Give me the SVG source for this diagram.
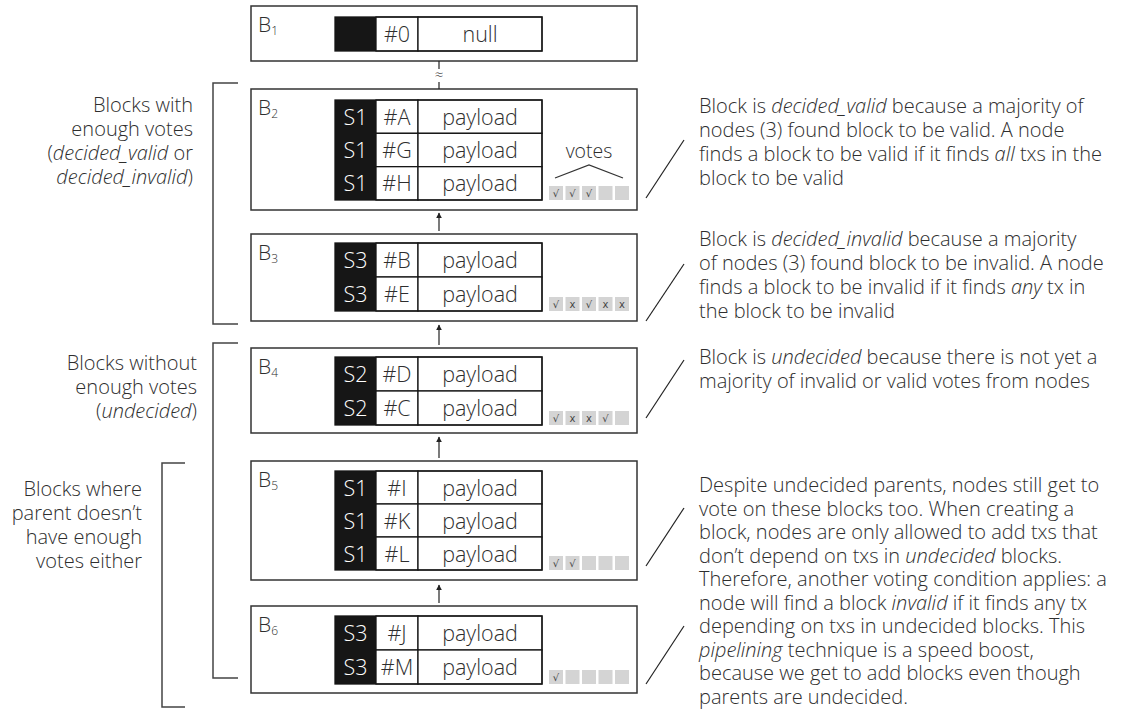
<svg xmlns="http://www.w3.org/2000/svg" width="1126" height="709" viewBox="0 0 1126 709">
<defs>
<style>
.box{fill:#fff;stroke:#333;stroke-width:1.5}
.blk{fill:#161616}
.cell{fill:#fff;stroke:#161616;stroke-width:1.3}
.frame{fill:none;stroke:#161616;stroke-width:1.3}
.t{font-family:"Open Sans","Noto Sans",sans-serif;fill:#2e2e2e;font-weight:300}
.tc{font-size:21.5px;text-anchor:middle}
.w{fill:#fff}
.lbl{font-size:21px}
.sub{font-size:12px}
.ann{font-size:20px}
.end{text-anchor:end}
.v{fill:#d4d4d4}
.vm{font-family:"DejaVu Sans",sans-serif;font-size:10px;fill:#444;text-anchor:middle}
.br{fill:none;stroke:#444;stroke-width:1.5}
.con{stroke:#222;stroke-width:1.2;fill:none}
.sl{stroke:#222;stroke-width:1.2}
</style>
<marker id="ah" viewBox="0 0 10 10" refX="9" refY="5" markerWidth="5" markerHeight="5" orient="auto" markerUnits="strokeWidth">
<path d="M0,0 L10,5 L0,10 z" fill="#222"/>
</marker>
</defs>
<rect width="1126" height="709" fill="#fff"/>

<g id="b1">
<rect class="box" x="251" y="6" width="386" height="55"/>
<text class="t lbl" x="258" y="32">B<tspan class="sub" dy="3">1</tspan></text>
<rect class="blk" x="335" y="17" width="41" height="34"/>
<rect class="cell" x="376" y="17" width="42" height="34"/>
<rect class="cell" x="418" y="17" width="124" height="34"/>
<rect class="frame" x="335" y="17" width="207" height="34"/>
<text class="t tc" x="397" y="42">#0</text>
<text class="t tc" x="480" y="42">null</text>
</g>

<g id="b2">
<rect class="box" x="251" y="89" width="386" height="121"/>
<text class="t lbl" x="258" y="115">B<tspan class="sub" dy="3">2</tspan></text>
<rect class="blk" x="335" y="100" width="41" height="100"/>
<rect class="cell" x="376" y="100" width="42" height="33.33"/><rect class="cell" x="418" y="100" width="124" height="33.33"/>
<rect class="cell" x="376" y="133.33" width="42" height="33.33"/><rect class="cell" x="418" y="133.33" width="124" height="33.33"/>
<rect class="cell" x="376" y="166.67" width="42" height="33.33"/><rect class="cell" x="418" y="166.67" width="124" height="33.33"/>
<rect class="frame" x="335" y="100" width="207" height="100"/>
<text class="t tc w" x="355.5" y="125">S1</text><text class="t tc" x="397" y="125">#A</text><text class="t tc" x="480" y="125">payload</text>
<text class="t tc w" x="355.5" y="158">S1</text><text class="t tc" x="397" y="158">#G</text><text class="t tc" x="480" y="158">payload</text>
<text class="t tc w" x="355.5" y="191">S1</text><text class="t tc" x="397" y="191">#H</text><text class="t tc" x="480" y="191">payload</text>
<text class="t" x="589" y="158" font-size="19.5" text-anchor="middle">votes</text>
<polyline points="555,178 589,165 623,178" fill="none" stroke="#333" stroke-width="1.2"/>
<rect class="v" x="549" y="186" width="14" height="14"/><rect class="v" x="565.5" y="186" width="14" height="14"/><rect class="v" x="582" y="186" width="14" height="14"/><rect class="v" x="598.5" y="186" width="14" height="14"/><rect class="v" x="615" y="186" width="14" height="14"/>
<text class="vm" x="556" y="197">√</text><text class="vm" x="572.5" y="197">√</text><text class="vm" x="589" y="197">√</text>
</g>

<g id="b3">
<rect class="box" x="251" y="234" width="386" height="87"/>
<text class="t lbl" x="258" y="260">B<tspan class="sub" dy="3">3</tspan></text>
<rect class="blk" x="335" y="243" width="41" height="68"/>
<rect class="cell" x="376" y="243" width="42" height="34"/><rect class="cell" x="418" y="243" width="124" height="34"/>
<rect class="cell" x="376" y="277" width="42" height="34"/><rect class="cell" x="418" y="277" width="124" height="34"/>
<rect class="frame" x="335" y="243" width="207" height="68"/>
<text class="t tc w" x="355.5" y="268">S3</text><text class="t tc" x="397" y="268">#B</text><text class="t tc" x="480" y="268">payload</text>
<text class="t tc w" x="355.5" y="302">S3</text><text class="t tc" x="397" y="302">#E</text><text class="t tc" x="480" y="302">payload</text>
<rect class="v" x="549" y="297" width="14" height="14"/><rect class="v" x="565.5" y="297" width="14" height="14"/><rect class="v" x="582" y="297" width="14" height="14"/><rect class="v" x="598.5" y="297" width="14" height="14"/><rect class="v" x="615" y="297" width="14" height="14"/>
<text class="vm" x="556" y="308">√</text><text class="vm" x="572.5" y="308">x</text><text class="vm" x="589" y="308">√</text><text class="vm" x="605.5" y="308">x</text><text class="vm" x="622" y="308">x</text>
</g>

<g id="b4">
<rect class="box" x="251" y="348" width="386" height="85"/>
<text class="t lbl" x="258" y="374">B<tspan class="sub" dy="3">4</tspan></text>
<rect class="blk" x="335" y="357" width="41" height="68"/>
<rect class="cell" x="376" y="357" width="42" height="34"/><rect class="cell" x="418" y="357" width="124" height="34"/>
<rect class="cell" x="376" y="391" width="42" height="34"/><rect class="cell" x="418" y="391" width="124" height="34"/>
<rect class="frame" x="335" y="357" width="207" height="68"/>
<text class="t tc w" x="355.5" y="382">S2</text><text class="t tc" x="397" y="382">#D</text><text class="t tc" x="480" y="382">payload</text>
<text class="t tc w" x="355.5" y="416">S2</text><text class="t tc" x="397" y="416">#C</text><text class="t tc" x="480" y="416">payload</text>
<rect class="v" x="549" y="411" width="14" height="14"/><rect class="v" x="565.5" y="411" width="14" height="14"/><rect class="v" x="582" y="411" width="14" height="14"/><rect class="v" x="598.5" y="411" width="14" height="14"/><rect class="v" x="615" y="411" width="14" height="14"/>
<text class="vm" x="556" y="422">√</text><text class="vm" x="572.5" y="422">x</text><text class="vm" x="589" y="422">x</text><text class="vm" x="605.5" y="422">√</text>
</g>

<g id="b5">
<rect class="box" x="251" y="461" width="386" height="119"/>
<text class="t lbl" x="258" y="487">B<tspan class="sub" dy="3">5</tspan></text>
<rect class="blk" x="335" y="471" width="41" height="99"/>
<rect class="cell" x="376" y="471" width="42" height="33"/><rect class="cell" x="418" y="471" width="124" height="33"/>
<rect class="cell" x="376" y="504" width="42" height="33"/><rect class="cell" x="418" y="504" width="124" height="33"/>
<rect class="cell" x="376" y="537" width="42" height="33"/><rect class="cell" x="418" y="537" width="124" height="33"/>
<rect class="frame" x="335" y="471" width="207" height="99"/>
<text class="t tc w" x="355.5" y="495.5">S1</text><text class="t tc" x="397" y="495.5">#I</text><text class="t tc" x="480" y="495.5">payload</text>
<text class="t tc w" x="355.5" y="528.5">S1</text><text class="t tc" x="397" y="528.5">#K</text><text class="t tc" x="480" y="528.5">payload</text>
<text class="t tc w" x="355.5" y="561.5">S1</text><text class="t tc" x="397" y="561.5">#L</text><text class="t tc" x="480" y="561.5">payload</text>
<rect class="v" x="549" y="556" width="14" height="14"/><rect class="v" x="565.5" y="556" width="14" height="14"/><rect class="v" x="582" y="556" width="14" height="14"/><rect class="v" x="598.5" y="556" width="14" height="14"/><rect class="v" x="615" y="556" width="14" height="14"/>
<text class="vm" x="556" y="567">√</text><text class="vm" x="572.5" y="567">√</text>
</g>

<g id="b6">
<rect class="box" x="251" y="606" width="386" height="87"/>
<text class="t lbl" x="258" y="632">B<tspan class="sub" dy="3">6</tspan></text>
<rect class="blk" x="335" y="616" width="41" height="68"/>
<rect class="cell" x="376" y="616" width="42" height="34"/><rect class="cell" x="418" y="616" width="124" height="34"/>
<rect class="cell" x="376" y="650" width="42" height="34"/><rect class="cell" x="418" y="650" width="124" height="34"/>
<rect class="frame" x="335" y="616" width="207" height="68"/>
<text class="t tc w" x="355.5" y="641">S3</text><text class="t tc" x="397" y="641">#J</text><text class="t tc" x="480" y="641">payload</text>
<text class="t tc w" x="355.5" y="675">S3</text><text class="t tc" x="397" y="675">#M</text><text class="t tc" x="480" y="675">payload</text>
<rect class="v" x="549" y="670" width="14" height="14"/><rect class="v" x="565.5" y="670" width="14" height="14"/><rect class="v" x="582" y="670" width="14" height="14"/><rect class="v" x="598.5" y="670" width="14" height="14"/><rect class="v" x="615" y="670" width="14" height="14"/>
<text class="vm" x="556" y="681">√</text>
</g>

<g id="connectors">
<line class="con" x1="439" y1="61" x2="439" y2="69"/>
<text class="t" x="439" y="80" font-size="15" text-anchor="middle">≈</text>
<line class="con" x1="439" y1="82" x2="439" y2="89"/>
<line class="con" x1="439" y1="231" x2="439" y2="213" marker-end="url(#ah)"/>
<line class="con" x1="439" y1="345" x2="439" y2="325" marker-end="url(#ah)"/>
<line class="con" x1="439" y1="458" x2="439" y2="437" marker-end="url(#ah)"/>
<line class="con" x1="439" y1="603" x2="439" y2="585" marker-end="url(#ah)"/>
</g>

<g id="brackets">
<polyline class="br" points="238,83 213,83 213,324 238,324"/>
<polyline class="br" points="238,343 213,343 213,678 238,678"/>
<polyline class="br" points="185,463 162,463 162,707 185,707"/>
</g>

<g id="left-labels">
<text class="t ann end" x="193"><tspan x="193" y="112">Blocks with</tspan><tspan x="193" y="136">enough votes</tspan><tspan x="193" y="160">(<tspan font-style="italic">decided_valid</tspan> or</tspan><tspan x="193" y="184"><tspan font-style="italic">decided_invalid</tspan>)</tspan></text>
<text class="t ann end" x="197"><tspan x="197" y="370">Blocks without</tspan><tspan x="197" y="394">enough votes</tspan><tspan x="197" y="418">(<tspan font-style="italic">undecided</tspan>)</tspan></text>
<text class="t ann end" x="142"><tspan x="142" y="496">Blocks where</tspan><tspan x="142" y="520">parent doesn’t</tspan><tspan x="142" y="544">have enough</tspan><tspan x="142" y="568">votes either</tspan></text>
</g>

<g id="notes">
<line class="sl" x1="646" y1="198" x2="684" y2="140"/>
<line class="sl" x1="646" y1="321" x2="684" y2="264"/>
<line class="sl" x1="646" y1="418" x2="684" y2="360"/>
<line class="sl" x1="646" y1="566" x2="684" y2="508"/>
<line class="sl" x1="646" y1="684" x2="684" y2="626"/>
<text class="t ann" x="699"><tspan x="699" y="113">Block is <tspan font-style="italic">decided_valid</tspan> because a majority of</tspan><tspan x="699" y="137">nodes (3) found block to be valid. A node</tspan><tspan x="699" y="161">finds a block to be valid if it finds <tspan font-style="italic">all</tspan> txs in the</tspan><tspan x="699" y="185">block to be valid</tspan></text>
<text class="t ann" x="699"><tspan x="699" y="246">Block is <tspan font-style="italic">decided_invalid</tspan> because a majority</tspan><tspan x="699" y="270">of nodes (3) found block to be invalid. A node</tspan><tspan x="699" y="294">finds a block to be invalid if it finds <tspan font-style="italic">any</tspan> tx in</tspan><tspan x="699" y="318">the block to be invalid</tspan></text>
<text class="t ann" x="699"><tspan x="699" y="364">Block is <tspan font-style="italic">undecided</tspan> because there is not yet a</tspan><tspan x="699" y="388">majority of invalid or valid votes from nodes</tspan></text>
<text class="t ann" x="699"><tspan x="699" y="492">Despite undecided parents, nodes still get to</tspan><tspan x="699" y="515.5">vote on these blocks too. When creating a</tspan><tspan x="699" y="539">block, nodes are only allowed to add txs that</tspan><tspan x="699" y="562.5">don’t depend on txs in <tspan font-style="italic">undecided</tspan> blocks.</tspan><tspan x="699" y="586">Therefore, another voting condition applies: a</tspan><tspan x="699" y="609.5">node will find a block <tspan font-style="italic">invalid</tspan> if it finds any tx</tspan><tspan x="699" y="633">depending on txs in undecided blocks. This</tspan><tspan x="699" y="656.5"><tspan font-style="italic">pipelining</tspan> technique is a speed boost,</tspan><tspan x="699" y="680">because we get to add blocks even though</tspan><tspan x="699" y="703.5">parents are undecided.</tspan></text>
</g>
</svg>
